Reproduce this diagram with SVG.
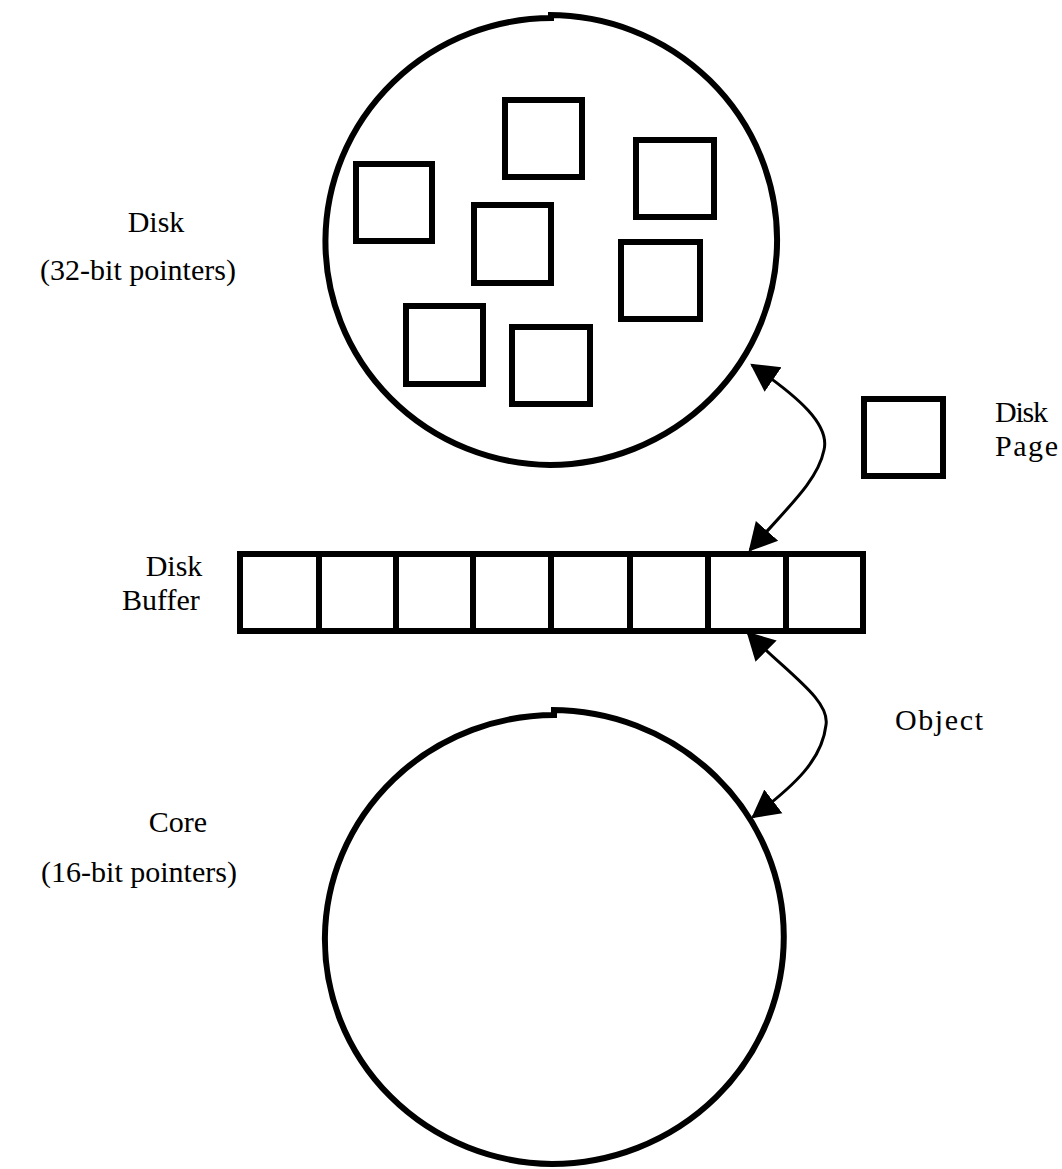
<svg xmlns="http://www.w3.org/2000/svg" width="1062" height="1169" viewBox="0 0 1062 1169">
  <style>
    .ring { fill: none; stroke: #000; stroke-width: 6; }
    .page { fill: #fff; stroke: #000; stroke-width: 6; }
    .cell { fill: none; stroke: #000; stroke-width: 6; }
    .link { fill: none; stroke: #000; stroke-width: 3; }
    .label { font-family: "Liberation Serif", "Times New Roman", serif; font-size: 30px; fill: #000; }
    .mid { text-anchor: middle; }
  </style>
  <defs>
    <marker id="head" markerUnits="userSpaceOnUse" markerWidth="30" markerHeight="32" viewBox="0 -15 28 30" refX="24" refY="0" orient="auto-start-reverse">
      <path d="M0,-14 L26,0 L0,14 Z" fill="#000"/>
    </marker>
  </defs>
  <rect width="1062" height="1169" fill="#fff"/>

  <!-- Disk store with its pages; the outline is two half arcs meeting in a small step at the top -->
  <g id="disk">
    <path class="ring" d="M554 18 A223 220 0 0 0 550 465 A223 220 0 0 0 548 15"/>
    <rect class="page" x="505" y="100" width="77" height="77"/>
    <rect class="page" x="636" y="140" width="78" height="77"/>
    <rect class="page" x="356" y="164" width="76" height="77"/>
    <rect class="page" x="474" y="205" width="77" height="78"/>
    <rect class="page" x="621" y="242" width="79" height="77"/>
    <rect class="page" x="406" y="306" width="77" height="78"/>
    <rect class="page" x="512" y="327" width="78" height="77"/>
  </g>
  <g id="disk-label">
    <text class="label mid" x="156" y="232">Disk</text>
    <text class="label mid" x="138" y="280">(32-bit pointers)</text>
  </g>

  <!-- Legend: a single disk page -->
  <g id="disk-page">
    <rect class="page" x="864" y="399" width="79" height="77"/>
    <text class="label" x="995" y="422" textLength="53">Disk</text>
    <text class="label" x="995" y="456" textLength="63">Page</text>
  </g>

  <!-- Disk buffer: eight page slots -->
  <g id="disk-buffer">
    <rect class="cell" x="240" y="554" width="623" height="77"/>
    <path class="cell" d="M319 554V631M396 554V631M473 554V631M551 554V631M630 554V631M708 554V631M786 554V631"/>
    <text class="label mid" x="174" y="576">Disk</text>
    <text class="label mid" x="161" y="610">Buffer</text>
  </g>

  <!-- Core memory -->
  <g id="core">
    <path class="ring" d="M557 715 A220 215 0 0 0 552 1164 A220 215 0 0 0 551 710"/>
    <text class="label mid" x="178" y="832">Core</text>
    <text class="label mid" x="139" y="882">(16-bit pointers)</text>
  </g>

  <!-- Page and object transfers -->
  <g id="connectors">
    <path class="link" marker-start="url(#head)" marker-end="url(#head)" d="M752 365 C800 398 830 425 824 450 C818 480 790 505 750 550"/>
    <path class="link" marker-start="url(#head)" marker-end="url(#head)" d="M748 633 C790 675 830 700 826 725 C822 760 795 785 753 817"/>
    <text class="label" x="895" y="730" textLength="88">Object</text>
  </g>
</svg>
